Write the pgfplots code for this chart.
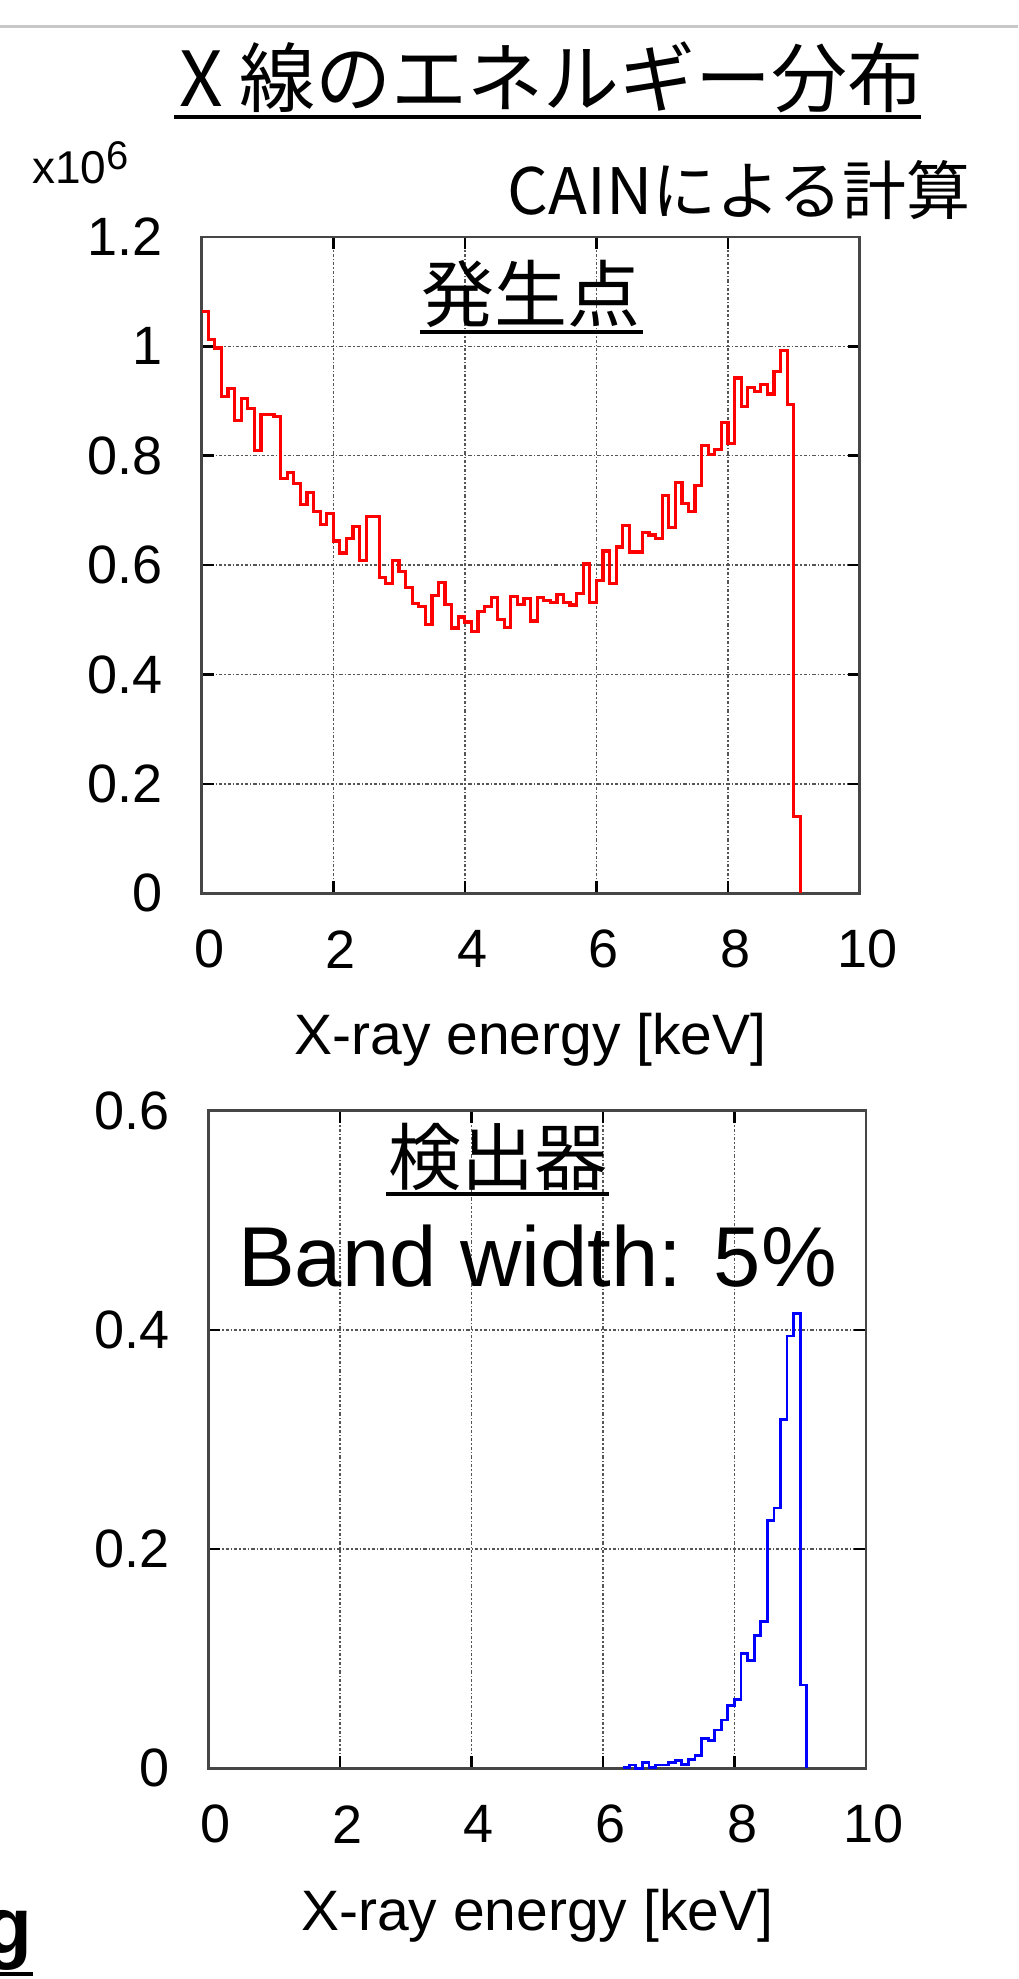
\documentclass[border=0pt]{standalone}
\usepackage{fontspec}
\setmainfont{Liberation Sans}
\newfontfamily\jp{Noto Sans CJK JP}
\usepackage{pgfplots}
\pgfplotsset{compat=1.18}
\definecolor{axisgray}{RGB}{70,70,70}
\definecolor{gridgray}{RGB}{85,85,85}
\definecolor{topline}{RGB}{200,200,200}

\pgfplotstableread{
x y
0.0 1.064
0.1 1.012
0.2 0.997
0.3 0.908
0.4 0.923
0.5 0.865
0.6 0.905
0.7 0.886
0.8 0.810
0.9 0.876
1.0 0.875
1.1 0.872
1.2 0.758
1.3 0.770
1.4 0.749
1.5 0.711
1.6 0.733
1.7 0.698
1.8 0.675
1.9 0.695
2.0 0.644
2.1 0.622
2.2 0.648
2.3 0.671
2.4 0.608
2.5 0.689
2.6 0.689
2.7 0.577
2.8 0.567
2.9 0.608
3.0 0.588
3.1 0.559
3.2 0.530
3.3 0.525
3.4 0.491
3.5 0.544
3.6 0.568
3.7 0.528
3.8 0.485
3.9 0.505
4.0 0.496
4.1 0.478
4.2 0.515
4.3 0.525
4.4 0.541
4.5 0.500
4.6 0.486
4.7 0.543
4.8 0.528
4.9 0.539
5.0 0.498
5.1 0.541
5.2 0.535
5.3 0.532
5.4 0.546
5.5 0.532
5.6 0.527
5.7 0.548
5.8 0.602
5.9 0.532
6.0 0.572
6.1 0.626
6.2 0.566
6.3 0.633
6.4 0.673
6.5 0.624
6.6 0.624
6.7 0.660
6.8 0.655
6.9 0.648
7.0 0.727
7.1 0.669
7.2 0.751
7.3 0.713
7.4 0.698
7.5 0.745
7.6 0.819
7.7 0.802
7.8 0.812
7.9 0.861
8.0 0.823
8.1 0.942
8.2 0.890
8.3 0.925
8.4 0.918
8.5 0.930
8.6 0.913
8.7 0.954
8.8 0.993
8.9 0.894
9.0 0.141
9.1 0
}\sourcetable

\pgfplotstableread{
x y
6.3 0.001
6.4 0.003
6.5 0.0
6.6 0.0055
6.7 0.001
6.8 0.003
6.9 0.003
7.0 0.005
7.1 0.007
7.2 0.0036
7.3 0.008
7.4 0.012
7.5 0.027
7.6 0.0255
7.7 0.035
7.8 0.044
7.9 0.057
8.0 0.063
8.1 0.105
8.2 0.098
8.3 0.121
8.4 0.134
8.5 0.226
8.6 0.2375
8.7 0.318
8.8 0.3945
8.9 0.415
9.0 0.076
9.1 0
}\detectortable

\pgfplotsset{
  myaxis/.style={
    scale only axis,
    clip=false,
    xmin=0, xmax=10, xtick={0,2,4,6,8,10},
    ymin=0,
    axis line style={axisgray, line width=1.3pt},
    every tick/.style={black, line width=1.3pt},
    major tick length=6pt,
    tick align=inside,
    xtick pos=both, ytick pos=both,
    xticklabel pos=lower, yticklabel pos=left,
    grid=major,
    major grid style={gridgray, line width=0.75pt, dash pattern=on 1.6pt off 1pt on 0.7pt off 1pt},
    /pgf/number format/assume math mode=true,
    ticklabel style={font=\fontsize{27}{27}\selectfont, inner sep=0pt},
    xticklabel style={anchor=center, yshift=-28pt, xshift=3.8pt},
    yticklabel style={anchor=east, xshift=-19.2pt},
    xlabel={X-ray energy [keV]},
    xlabel style={font=\fontsize{28.5}{28.5}\selectfont, at={(axis description cs:0.5,0)}, anchor=base, yshift=-80.85pt, inner sep=0pt},
  }
}

\begin{document}
\begin{tikzpicture}
\useasboundingbox (0pt,0pt) rectangle (509pt,989.5pt);

% slide rule at top
\draw[topline, line width=1.3pt] (0pt,976.15pt) -- (509pt,976.15pt);

% title
\node[anchor=base, inner sep=0pt, font=\jp\fontsize{38}{38}\selectfont] at (275.75pt,936pt) {X 線のエネルギー分布};
\draw[black, line width=2.1pt] (87pt,931pt) -- (460.5pt,931pt);

\node[anchor=base east, inner sep=0pt, font=\jp\fontsize{32}{32}\selectfont] at (485.5pt,882pt) {CAINによる計算};

\node[anchor=base west, inner sep=0pt, font=\fontsize{23}{23}\selectfont] at (16pt,897.5pt) {x10\raisebox{7pt}{\fontsize{20}{20}\selectfont 6}};

% top axis
\begin{axis}[myaxis,
  at={(100.85pt,542.85pt)}, anchor=south west,
  width=328.9pt, height=328.15pt,
  ymax=1.2, ytick={0,0.2,0.4,0.6,0.8,1,1.2},
]
\addplot[const plot mark left, no marks, color=red, line width=1.6pt] table[x=x,y=y] {\sourcetable};
\end{axis}

\node[anchor=center, inner sep=0pt, font=\jp\fontsize{36.5}{36.5}\selectfont] at (265.25pt,842.5pt) {発生点};
\draw[black, line width=2pt] (210pt,823.5pt) -- (321.5pt,823.5pt);

% bottom axis
\begin{axis}[myaxis,
  at={(104.15pt,105.35pt)}, anchor=south west,
  width=328.85pt, height=328.8pt,
  ymax=0.6, ytick={0,0.2,0.4,0.6},
]
\addplot[const plot mark left, no marks, color=blue, line width=1.4pt] table[x=x,y=y] {\detectortable};
\end{axis}

\node[anchor=center, inner sep=0pt, font=\jp\fontsize{36.5}{36.5}\selectfont] at (248.75pt,411pt) {検出器};
\draw[black, line width=2pt] (193pt,392.5pt) -- (304.5pt,392.5pt);

\node[anchor=base, inner sep=0pt, font=\fontsize{42.5}{42.5}\selectfont] at (268.75pt,346.25pt) {Band width: 5\%};

% cut-off slide text at bottom left
\node[anchor=base west, inner sep=0pt, font=\bfseries\fontsize{40}{40}\selectfont] at (-8.5pt,12.75pt) {g};
\draw[black, line width=2pt] (0pt,2.5pt) -- (16.5pt,2.5pt);
\end{tikzpicture}
\end{document}
